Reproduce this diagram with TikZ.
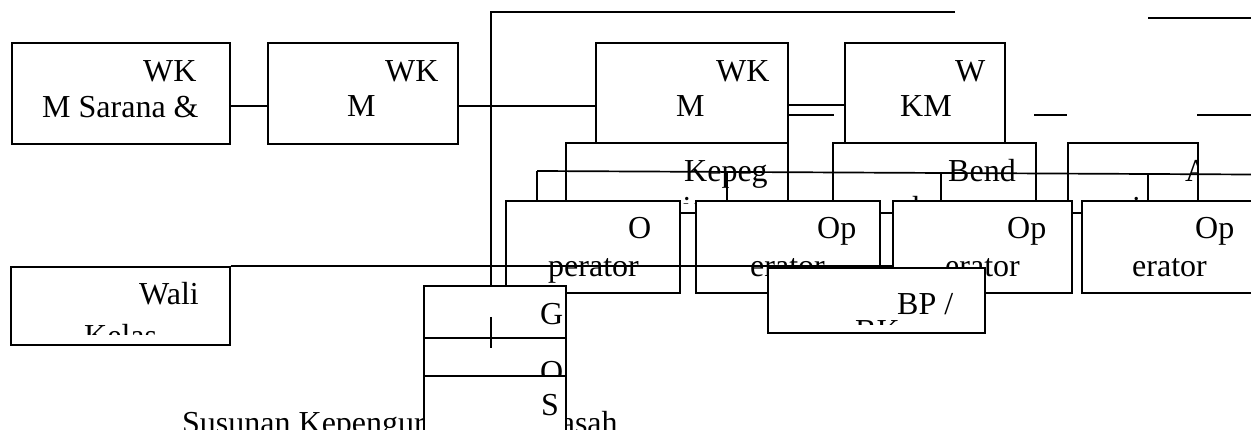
\documentclass[tikz,border=0pt]{standalone}
\usepackage{fontspec}
\setmainfont{Liberation Serif}
\usetikzlibrary{calc}
\begin{document}
\begin{tikzpicture}[x=1pt,y=-1pt,
  box/.style={draw=black, fill=white, line width=1.7pt, rectangle, inner sep=0pt, anchor=north west},
  txt/.style={font=\fontsize{32}{38}\selectfont, inner sep=0pt, anchor=base west},
  ln/.style={draw=black, line width=1.7pt}]
\useasboundingbox (0,0) rectangle (1251,430);
\clip (0,0) rectangle (1251,430);

% ---- top row
\node[box, minimum width=218pt, minimum height=101pt] (bA) at (11,42) {};
\node[txt] (tA1) at (143,82) {WK};
\node[txt] (tA2) at (42,118) {M Sarana \&};
\node[box, minimum width=190pt, minimum height=101pt] (bB) at (267,42) {};
\node[txt] (tB1) at (385,82) {WK};
\node[txt] (tB2) at (347,117) {M};
\node[box, minimum width=192pt, minimum height=100pt] (bC) at (595,42) {};
\node[txt] (tC1) at (716,82) {WK};
\node[txt] (tC2) at (676,117) {M};
\node[box, minimum width=160pt, minimum height=100pt] (bD) at (844,42) {};
\node[txt] (tD1) at (955,82) {W};
\node[txt] (tD2) at (900,117) {KM};

% ---- second row
\node[box, minimum width=222pt, minimum height=70pt] (bKep) at (565,142) {};
\begin{scope}
\clip (bKep.north west) rectangle ([yshift=10pt]bKep.south east);
\node[txt] (tK1) at (684,182) {Kepeg};
\node[txt] (tK2) at (631,219) {awaian};
\end{scope}
\node[box, minimum width=203pt, minimum height=70pt] (bBen) at (832,142) {};
\begin{scope}
\clip (bBen.north west) rectangle ([yshift=10pt]bBen.south east);
\node[txt] (tBe1) at (948,182) {Bend};
\node[txt] (tBe2) at (898,219) {ahara};
\end{scope}
\node[box, minimum width=130pt, minimum height=70pt] (bAdm) at (1067,142) {};
\begin{scope}
\clip (bAdm.north west) rectangle ([yshift=10pt]bAdm.south east);
\node[txt] (tAd1) at (1185,182) {A};
\node[txt] (tAd2) at (1107,219) {min};
\end{scope}

% ---- operator row
\node[box, minimum width=174pt, minimum height=92pt] (op1) at (505,200) {};
\begin{scope}
\clip (op1.north west) rectangle ([yshift=10pt]op1.south east);
\node[txt] (to1a) at (628,239) {O};
\node[txt] (to1b) at (548,277) {perator};
\end{scope}
\node[box, minimum width=184pt, minimum height=92pt] (op2) at (695,200) {};
\begin{scope}
\clip (op2.north west) rectangle ([yshift=10pt]op2.south east);
\node[txt] (to2a) at (817,239) {Op};
\node[txt] (to2b) at (750,277) {erator};
\end{scope}
\node[box, minimum width=179pt, minimum height=92pt] (op3) at (892,200) {};
\begin{scope}
\clip (op3.north west) rectangle ([yshift=10pt]op3.south east);
\node[txt] (to3a) at (1007,239) {Op};
\node[txt] (to3b) at (945,277) {erator};
\end{scope}
\node[box, minimum width=173pt, minimum height=92pt] (op4) at (1081,200) {};
\begin{scope}
\clip (op4.north west) rectangle ([yshift=10pt]op4.south east);
\node[txt] (to4a) at (1195,239) {Op};
\node[txt] (to4b) at (1132,277) {erator};
\end{scope}

% ---- sloping bus and drops
\coordinate (bus1) at (537,171);
\coordinate (bus2) at (1251,174.5);
\draw[ln] (bus1) -- (bus2);
\draw[ln] (bus1) -- (bus1 |- op1.north);
\path ($(bus1)!0.266!(bus2)$) coordinate (j2)
      ($(bus1)!0.566!(bus2)$) coordinate (j3)
      ($(bus1)!0.856!(bus2)$) coordinate (j4);
\draw[ln] (j2) -- (j2 |- op2.north);
\draw[ln] (j3) -- (j3 |- op3.north);
\draw[ln] (j4) -- (j4 |- op4.north);

% ---- wali kelas and long line
\node[box, minimum width=219pt, minimum height=78pt] (bW) at (10,266) {};
\draw[ln] (bW.north east) -- (bW.north east -| op3.west);
\begin{scope}
\clip (bW.north west) rectangle ([yshift=11pt]bW.south east);
\node[txt] (tW1) at (139,305) {Wali};
\node[txt] (tW2) at (84,347) {Kelas};
\end{scope}

% ---- BP / BK
\node[box, minimum width=217pt, minimum height=65pt] (bBP) at (767,267) {};
\begin{scope}
\clip (bBP.north west) rectangle ([yshift=9.5pt]bBP.south east);
\node[txt] (tBP1) at (897,315) {BP /};
\node[txt] (tBP2) at (855,342) {BK};
\end{scope}

% ---- caption
\node[txt] (cap) at (182,433) {Susunan Kepengurusan Madrasah};

% ---- G / O / S stack
\node[box, minimum width=142pt, minimum height=52pt] (bG) at (423,285) {};
\node[txt] (tG) at (540,325) {G};
\node[box, minimum width=142pt, minimum height=38pt] (bO) at (423,337) {};
\node[txt] (tO) at (540,383) {O};
\node[box, minimum width=142pt, minimum height=80pt] (bS) at (423,375) {};
\node[txt] (tS) at (541,415) {S};
\draw[ln] ($(bG.north west)+(68,32)$) -- ++(0,31);

% ---- connectors
\coordinate (topL) at (491,12);
\coordinate (topR) at (955,12);
\draw[ln] (topR) -- (topL) -- (topL |- bG.north);
\draw[ln] ([yshift=-12.5pt]bA.east) -- ([yshift=-12.5pt]bB.west);
\draw[ln] ([yshift=-12.5pt]bB.east) -- ([yshift=-13pt]bC.west);
\draw[ln] ([yshift=-12pt]bC.east) -- ([yshift=-12pt]bD.west);
\draw[ln] ([yshift=-22pt]bC.east) coordinate (cd2) -- ++(45,0);
\coordinate (r1a) at (1148,18);
\coordinate (r1b) at (1251,18);
\draw[ln] (r1a) -- (r1b);
\coordinate (r2a) at (1034,115);
\coordinate (r2b) at (1067,115);
\draw[ln] (r2a) -- (r2b);
\coordinate (r3a) at (1197,115);
\coordinate (r3b) at (1251,115);
\draw[ln] (r3a) -- (r3b);
\end{tikzpicture}
\end{document}
